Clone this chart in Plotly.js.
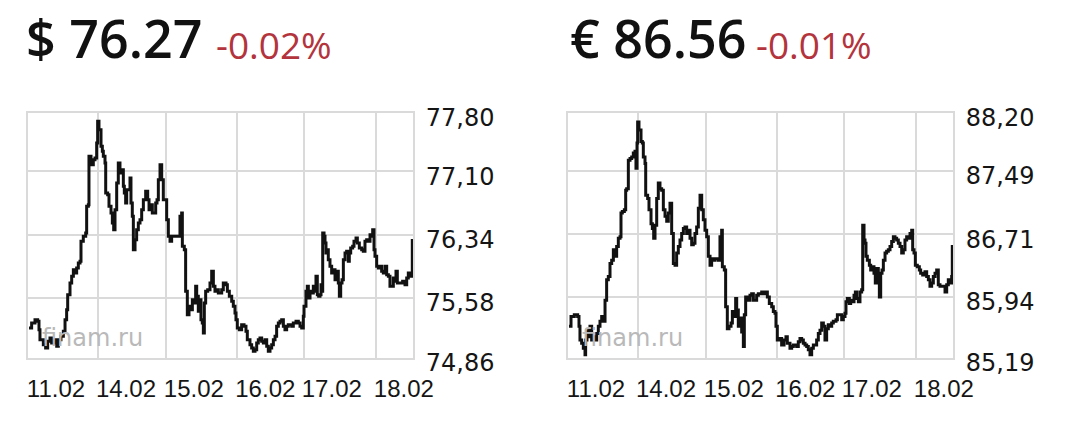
<!DOCTYPE html>
<html>
<head>
<meta charset="utf-8">
<script src="https://cdn.plot.ly/plotly-3.0.1.min.js"></script>
<style>
  html, body { margin: 0; padding: 0; background: #fff; }
  #chart { width: 1080px; height: 433px; }
</style>
</head>
<body>
<div id="chart"></div>
<script>
// trading days on the x axis: 0 = 11.02, 1 = 14.02 ... (weekend skipped)
const dayStarts = [0, 1, 1.97, 2.99, 3.94, 4.97];
const dayLabels = ['11.02', '14.02', '15.02', '16.02', '17.02', '18.02'];

const usdTicks = [74.86, 75.58, 76.34, 77.10, 77.80];
const eurTicks = [85.19, 85.94, 86.71, 87.49, 88.20];

const quotes = ['$ 76.27', '\u20ac 86.56'];
const changes = ['-0.02%', '-0.01%'];

const usdDay = [
	0.014,0.052,0.100,0.138,0.157,0.171,0.219,0.252,0.281,0.314,
	0.338,0.376,0.410,0.433,0.471,0.505,0.529,0.552,0.567,0.600,
	0.624,0.648,0.671,0.695,0.719,0.743,0.757,0.790,0.824,0.838,
	0.862,0.871,0.900,0.933,0.957,0.981,0.995,1.014,1.043,1.062,
	1.076,1.100,1.110,1.138,1.157,1.186,1.205,1.224,1.243,1.267,
	1.290,1.314,1.338,1.362,1.376,1.395,1.410,1.433,1.457,1.471,
	1.490,1.505,1.529,1.552,1.576,1.600,1.624,1.648,1.681,1.710,
	1.729,1.757,1.776,1.805,1.824,1.843,1.862,1.886,1.910,1.933,
	1.957,1.981,2.005,2.029,2.052,2.100,2.148,2.171,2.195,2.205,
	2.233,2.252,2.276,2.300,2.329,2.348,2.376,2.395,2.410,2.433,
	2.457,2.471,2.490,2.505,2.519,2.538,2.567,2.600,2.624,2.648,
	2.671,2.695,2.719,2.767,2.790,2.829,2.848,2.876,2.910,2.933,
	2.957,2.971,2.990,3.019,3.052,3.086,3.114,3.133,3.171,3.195,
	3.219,3.243,3.267,3.290,3.314,3.338,3.362,3.386,3.410,3.433,
	3.457,3.481,3.505,3.529,3.552,3.576,3.600,3.624,3.648,3.671,
	3.695,3.719,3.767,3.790,3.829,3.862,3.886,3.910,3.933,3.943,
	3.971,3.990,4.005,4.029,4.052,4.076,4.100,4.114,4.133,4.152,
	4.171,4.186,4.200,4.210,4.229,4.243,4.257,4.276,4.290,4.314,
	4.338,4.362,4.386,4.410,4.433,4.448,4.467,4.486,4.505,4.529,
	4.552,4.576,4.590,4.610,4.638,4.657,4.686,4.705,4.733,4.767,
	4.790,4.814,4.838,4.862,4.886,4.910,4.924,4.943,4.957,4.981,
	5.005,5.029,5.052,5.076,5.100,5.124,5.148,5.171,5.195,5.219,
	5.243,5.257,5.276,5.314,5.352,5.386,5.410,5.433,5.457,5.481,
	5.490,5.500
];
const usdRate = [
	75.22,75.28,75.32,75.30,75.20,75.08,75.02,74.98,75.06,75.10,
	75.04,75.08,75.00,75.08,75.12,75.18,75.32,75.44,75.62,75.76,
	75.84,75.92,75.88,75.94,76.00,76.02,76.26,76.32,76.36,76.68,
	76.70,77.28,77.18,77.24,77.26,77.44,77.70,77.60,77.40,77.34,
	77.28,77.20,76.84,76.82,76.68,76.60,76.48,76.40,76.64,76.96,
	77.20,77.08,77.12,76.92,76.84,76.72,76.88,76.88,77.02,76.72,
	76.56,76.16,76.28,76.40,76.48,76.52,76.64,76.76,76.86,76.76,
	76.64,76.70,76.60,76.60,76.72,76.76,77.00,77.18,77.00,76.76,
	76.76,76.52,76.32,76.26,76.32,76.32,76.32,76.56,76.60,76.20,
	76.16,75.66,75.38,75.48,75.44,75.56,75.52,75.72,75.60,75.42,
	75.56,75.32,75.28,75.16,75.52,75.66,75.68,75.76,75.90,75.72,
	75.66,75.68,75.64,75.68,75.76,75.74,75.66,75.60,75.54,75.48,
	75.40,75.32,75.22,75.20,75.26,75.24,75.18,75.08,75.02,74.98,
	74.94,74.96,75.04,75.08,75.10,75.06,75.04,75.08,75.00,74.94,
	74.98,75.02,75.08,75.12,75.24,75.28,75.30,75.32,75.24,75.20,
	75.24,75.26,75.24,75.28,75.30,75.28,75.24,75.22,75.36,75.48,
	75.66,75.72,75.58,75.66,75.64,75.72,75.66,75.84,75.62,75.60,
	75.62,75.74,75.66,76.36,76.32,76.24,76.12,76.16,76.04,75.96,
	75.88,75.92,75.80,75.90,75.76,75.60,75.76,75.80,76.04,76.12,
	76.14,76.02,76.12,76.18,76.20,76.26,76.30,76.24,76.18,76.16,
	76.14,76.26,76.28,76.26,76.34,76.32,76.40,76.16,76.08,75.96,
	75.94,75.96,75.90,75.88,75.96,75.86,75.84,75.72,75.72,75.82,
	75.78,75.90,75.76,75.76,75.78,75.74,75.82,75.88,75.84,75.86,
	76.27,76.27
];

const eurDay = [
	0.014,0.043,0.090,0.138,0.157,0.171,0.195,0.219,0.243,0.252,
	0.271,0.290,0.314,0.338,0.362,0.386,0.410,0.433,0.457,0.481,
	0.505,0.529,0.552,0.576,0.600,0.624,0.648,0.671,0.695,0.719,
	0.743,0.757,0.776,0.805,0.824,0.838,0.862,0.886,0.910,0.933,
	0.957,0.971,0.986,0.995,1.014,1.043,1.062,1.076,1.100,1.110,
	1.138,1.157,1.186,1.205,1.224,1.243,1.267,1.290,1.314,1.338,
	1.362,1.386,1.410,1.433,1.457,1.481,1.505,1.529,1.552,1.576,
	1.600,1.624,1.648,1.671,1.695,1.719,1.743,1.767,1.790,1.814,
	1.838,1.862,1.886,1.910,1.933,1.957,1.981,2.005,2.029,2.052,
	2.076,2.100,2.148,2.171,2.195,2.205,2.233,2.252,2.276,2.300,
	2.329,2.348,2.376,2.395,2.410,2.433,2.457,2.481,2.505,2.519,
	2.538,2.567,2.600,2.624,2.648,2.671,2.695,2.719,2.767,2.805,
	2.829,2.848,2.876,2.910,2.933,2.957,2.971,2.990,3.019,3.052,
	3.086,3.114,3.133,3.171,3.195,3.219,3.267,3.290,3.314,3.338,
	3.362,3.386,3.410,3.433,3.457,3.481,3.505,3.529,3.552,3.576,
	3.600,3.624,3.648,3.671,3.695,3.719,3.743,3.767,3.790,3.829,
	3.848,3.876,3.910,3.933,3.957,3.971,3.990,4.019,4.038,4.067,
	4.086,4.105,4.124,4.148,4.171,4.195,4.210,4.229,4.243,4.257,
	4.276,4.305,4.324,4.352,4.371,4.390,4.410,4.433,4.448,4.467,
	4.486,4.505,4.529,4.552,4.576,4.600,4.624,4.648,4.671,4.695,
	4.719,4.743,4.767,4.790,4.814,4.838,4.862,4.886,4.910,4.924,
	4.943,4.962,4.990,5.019,5.038,5.067,5.100,5.124,5.148,5.171,
	5.195,5.219,5.243,5.267,5.290,5.314,5.352,5.386,5.410,5.433,
	5.457,5.481,5.490,5.500
];
const eurRate = [
	85.58,85.70,85.72,85.70,85.58,85.41,85.37,85.31,85.23,85.41,
	85.53,85.45,85.58,85.41,85.45,85.41,85.49,85.58,85.64,85.70,
	85.64,85.90,86.15,86.19,86.35,86.39,86.52,86.44,86.56,86.66,
	86.68,86.97,86.99,87.01,87.25,87.27,87.62,87.64,87.66,87.71,
	87.73,87.52,87.83,88.09,87.99,87.85,87.83,87.66,87.58,87.19,
	87.15,87.01,86.84,86.78,86.66,86.82,87.15,87.34,87.27,87.25,
	87.01,86.93,86.87,86.97,87.09,86.72,86.35,86.33,86.48,86.56,
	86.64,86.72,86.78,86.80,86.72,86.76,86.66,86.58,86.60,86.72,
	86.80,87.03,87.19,87.01,86.89,86.76,86.68,86.44,86.33,86.41,
	86.39,86.41,86.39,86.68,86.76,86.31,86.27,85.82,85.55,85.58,
	85.62,85.76,85.70,85.92,85.78,85.58,85.68,85.51,85.33,85.72,
	85.94,85.90,85.96,85.98,85.90,85.90,85.96,85.98,86.00,85.98,
	86.00,85.94,85.86,85.82,85.76,85.74,85.58,85.41,85.43,85.35,
	85.41,85.45,85.37,85.31,85.33,85.35,85.33,85.39,85.43,85.41,
	85.37,85.35,85.33,85.29,85.23,85.31,85.35,85.35,85.41,85.49,
	85.53,85.62,85.58,85.41,85.55,85.60,85.58,85.62,85.64,85.66,
	85.72,85.72,85.66,85.70,85.74,85.88,85.92,85.86,85.90,85.88,
	85.96,86.00,85.92,85.88,86.00,86.03,86.82,86.64,86.60,86.44,
	86.39,86.33,86.27,86.31,86.23,86.11,86.29,86.19,85.94,86.23,
	86.27,86.39,86.48,86.50,86.52,86.56,86.62,86.68,86.66,86.64,
	86.60,86.56,86.48,86.52,86.64,86.68,86.66,86.72,86.76,86.52,
	86.48,86.33,86.31,86.27,86.23,86.21,86.25,86.19,86.15,86.07,
	86.11,86.19,86.23,86.27,86.09,86.07,86.07,86.00,86.09,86.15,
	86.11,86.19,86.56,86.56
];

const W = 1080, H = 433;
const px = (x) => x / W;
const py = (y) => 1 - y / H;

const GRID = '#dadada';

const xAxis = (left, right) => ({
	domain: [px(left), px(right)],
	range: [0, 5.5],
	tickmode: 'array',
	tickvals: dayStarts,
	ticktext: dayLabels,
	ticks: '',
	showgrid: true,
	gridcolor: GRID,
	gridwidth: 2,
	showline: true,
	mirror: true,
	linecolor: GRID,
	linewidth: 2,
	zeroline: false,
	ticklabelshift: 28,
	ticklabelstandoff: 8,
	tickfont: {family: '"Liberation Sans Narrow", "Liberation Sans", Arial, sans-serif', size: 24, color: '#151515'},
	fixedrange: true,
});

const yAxis = (ticks, anchor) => ({
	domain: [py(358), py(113)],
	range: [ticks[0], ticks[ticks.length - 1]],
	side: 'right',
	anchor: anchor,
	tickmode: 'array',
	tickvals: ticks,
	ticktext: ticks.map(t => t.toFixed(2).replace('.', ',')),
	ticks: '',
	showgrid: true,
	gridcolor: GRID,
	gridwidth: 2,
	showline: true,
	mirror: true,
	linecolor: GRID,
	linewidth: 2,
	zeroline: false,
	ticklabelstandoff: 6,
	ticklabelshift: 5,
	tickfont: {family: '"DejaVu Sans", Verdana, sans-serif', size: 24, color: '#151515'},
	fixedrange: true,
});

const lineStyle = {color: '#111', width: 3, shape: 'hv'};

const traces = [
	{x: usdDay, y: usdRate, xaxis: 'x', yaxis: 'y', type: 'scatter', mode: 'lines', line: lineStyle, hoverinfo: 'skip'},
	{x: eurDay, y: eurRate, xaxis: 'x2', yaxis: 'y2', type: 'scatter', mode: 'lines', line: lineStyle, hoverinfo: 'skip'},
];

const headerFont = {family: '"Open Sans", "Noto Sans", sans-serif', size: 52, color: '#111', weight: 600};
const changeFont = {family: '"Open Sans", "Noto Sans", sans-serif', size: 37, color: '#b3343c'};
const markFont = {family: '"DejaVu Sans", Verdana, sans-serif', size: 24, color: '#b9b9b9'};

const annotations = [
	{text: quotes[0], x: px(24), y: py(38), xref: 'paper', yref: 'paper', xanchor: 'left', yanchor: 'middle', showarrow: false, font: headerFont},
	{text: changes[0], x: px(214), y: py(44), xref: 'paper', yref: 'paper', xanchor: 'left', yanchor: 'middle', showarrow: false, font: changeFont},
	{text: quotes[1], x: px(568), y: py(38), xref: 'paper', yref: 'paper', xanchor: 'left', yanchor: 'middle', showarrow: false, font: headerFont},
	{text: changes[1], x: px(754), y: py(44), xref: 'paper', yref: 'paper', xanchor: 'left', yanchor: 'middle', showarrow: false, font: changeFont},
	{text: 'finam.ru', x: 0.03, y: 0.08, xref: 'x domain', yref: 'y domain', xanchor: 'left', yanchor: 'middle', showarrow: false, font: markFont},
	{text: 'finam.ru', x: 0.03, y: 0.08, xref: 'x2 domain', yref: 'y2 domain', xanchor: 'left', yanchor: 'middle', showarrow: false, font: markFont},
];

const layout = {
	width: W,
	height: H,
	margin: {l: 0, r: 0, t: 0, b: 0},
	paper_bgcolor: '#fff',
	plot_bgcolor: '#fff',
	showlegend: false,
	xaxis: xAxis(28, 413),
	yaxis: yAxis(usdTicks, 'x'),
	xaxis2: xAxis(568, 953),
	yaxis2: yAxis(eurTicks, 'x2'),
	annotations: annotations,
};

Plotly.newPlot('chart', traces, layout, {displayModeBar: false, staticPlot: true});
</script>
</body>
</html>
